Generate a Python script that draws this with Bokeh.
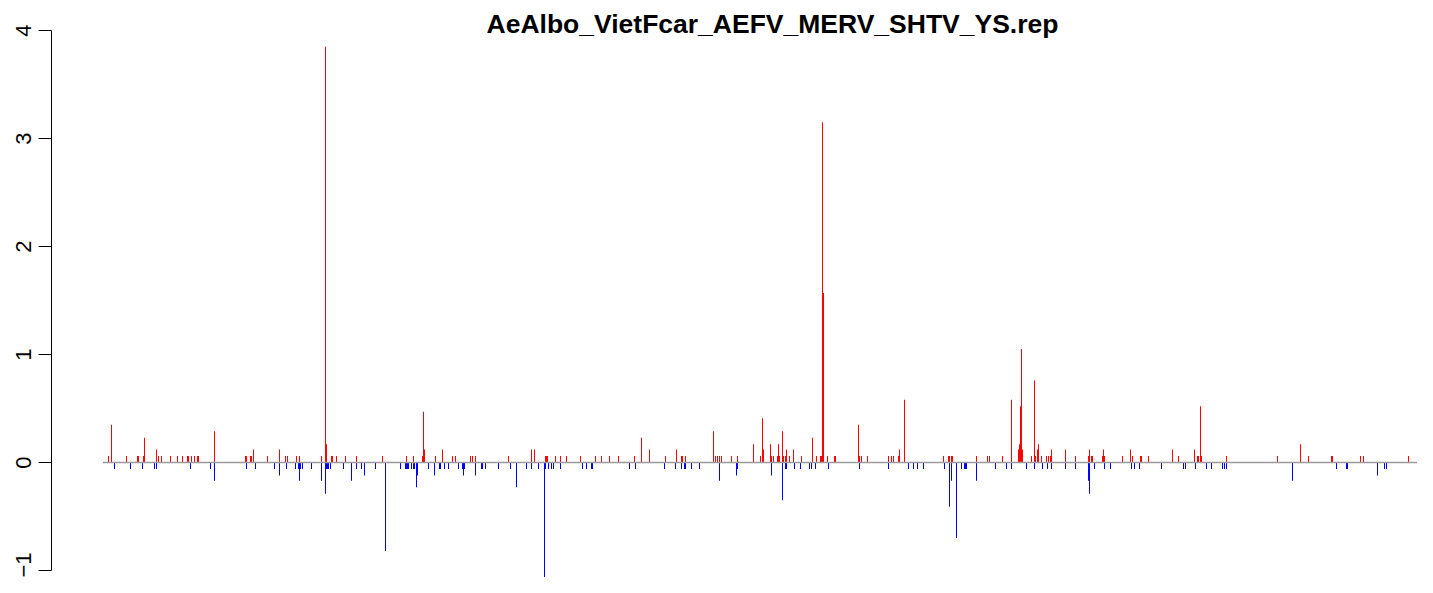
from bokeh.plotting import figure
from bokeh.models import Range1d, FixedTicker, Label
from bokeh.embed import file_html
from bokeh.resources import INLINE

title_text = "AeAlbo_VietFcar_AEFV_MERV_SHTV_YS.rep"
y_ticks = [-1, 0, 1, 2, 3, 4]

# plus strand (red, positive) : bin index and value
plus_pos = [8, 11, 26, 37, 38, 43, 44, 56, 58, 61, 70, 77, 82, 87, 88, 91, 94, 97, 98, 114,
            145, 146, 150, 151, 153, 167, 179, 185, 187, 196, 199, 221, 225, 226, 231, 232, 236, 245, 256,
            282, 306, 313, 322, 323, 324, 335, 342, 352, 355, 370, 372, 375,
            408, 431, 434, 445, 446, 447, 455, 460, 466, 480, 495, 501, 509, 518,
            534, 541, 549, 565, 576, 581, 582, 585, 613, 615, 617, 619, 621, 631, 637, 653, 660, 662, 663,
            670, 671, 673, 677, 678, 679, 682, 683, 685, 686, 689, 693, 701, 712, 716, 720, 721, 722, 723,
            727, 734, 735, 758, 759, 761, 767, 788, 791, 793, 798, 799,
            804, 843, 848, 849, 851, 852, 876, 887, 889, 902, 911, 918, 919, 920, 921, 922, 931,
            934, 935, 937, 938, 941, 946, 948, 950, 951, 965, 975, 988, 989, 991, 992, 1002, 1003, 1004,
            1022, 1030, 1032, 1040, 1041, 1048,
            1072, 1078, 1094, 1097, 1098, 1100, 1101, 1126, 1177,
            1200, 1208, 1231, 1232, 1260, 1263, 1308, 1330]
plus_val = [0.06, 0.35, 0.06, 0.06, 0.06, 0.06, 0.23, 0.12, 0.06, 0.06, 0.06, 0.06, 0.06, 0.06, 0.06, 0.06, 0.06, 0.06, 0.06, 0.29,
            0.06, 0.06, 0.06, 0.06, 0.12, 0.06, 0.12, 0.06, 0.06, 0.06, 0.06, 0.06, 3.85, 0.17, 0.06, 0.06, 0.06, 0.06, 0.06,
            0.06, 0.06, 0.06, 0.06, 0.47, 0.12, 0.06, 0.12, 0.06, 0.06, 0.06, 0.06, 0.06,
            0.06, 0.12, 0.12, 0.06, 0.06, 0.06, 0.06, 0.06, 0.06, 0.06, 0.06, 0.06, 0.06, 0.06,
            0.06, 0.23, 0.12, 0.06, 0.12, 0.06, 0.06, 0.06, 0.29, 0.06, 0.06, 0.06, 0.06, 0.06, 0.06, 0.17, 0.06, 0.41, 0.12,
            0.17, 0.06, 0.06, 0.06, 0.17, 0.06, 0.29, 0.06, 0.06, 0.12, 0.06, 0.12, 0.06, 0.23, 0.06, 0.06, 0.06, 3.15, 1.57,
            0.06, 0.06, 0.06, 0.35, 0.06, 0.06, 0.06, 0.06, 0.06, 0.06, 0.06, 0.12,
            0.58, 0.06, 0.06, 0.06, 0.06, 0.06, 0.06, 0.06, 0.06, 0.06, 0.58, 0.12, 0.17, 0.52, 1.05, 0.12, 0.06,
            0.76, 0.06, 0.12, 0.17, 0.06, 0.06, 0.06, 0.06, 0.12, 0.12, 0.06, 0.06, 0.12, 0.06, 0.06, 0.06, 0.12, 0.06,
            0.06, 0.12, 0.06, 0.06, 0.06, 0.06,
            0.12, 0.06, 0.12, 0.06, 0.06, 0.52, 0.06, 0.06, 0.06,
            0.17, 0.06, 0.06, 0.06, 0.06, 0.06, 0.06, 0.06]

# minus strand (blue, negative) : bin index and value
minus_pos = [14, 30, 42, 54, 56, 90, 110, 114,
             146, 155, 174, 179, 186, 195, 198, 199, 200, 202, 211, 221, 225, 226, 227, 228, 230, 243, 251, 256, 261, 264,
             275, 285, 300, 305, 306, 307, 308, 311, 313, 314, 316, 317, 328, 334, 339, 340, 344, 348, 358, 362, 363, 364,
             375, 381, 382, 385, 398,
             410, 416, 426, 431, 438, 444, 445, 448, 451, 453, 460, 482, 486, 491, 492, 529,
             535, 564, 575, 581, 584, 585, 591, 599, 619, 636, 637,
             671, 682, 685, 686, 694, 700, 709, 711, 715, 728, 759, 788,
             808, 813, 817, 823, 844, 849, 851, 856, 861, 864, 865, 866, 876, 895, 906, 911, 926,
             934, 942, 947, 951, 965, 975, 988, 989, 994, 1004, 1010, 1031, 1034, 1039, 1061,
             1083, 1085, 1095, 1106, 1111, 1122, 1124, 1126, 1192,
             1236, 1246, 1247, 1277, 1284, 1286, 1325, 1326, 1329]
minus_val = [-0.06, -0.06, -0.06, -0.06, -0.06, -0.06, -0.06, -0.17,
             -0.06, -0.06, -0.06, -0.12, -0.06, -0.06, -0.06, -0.17, -0.06, -0.06, -0.06, -0.17, -0.29, -0.06, -0.06, -0.06, -0.06, -0.06, -0.17, -0.06, -0.06, -0.12,
             -0.06, -0.82, -0.06, -0.06, -0.06, -0.06, -0.06, -0.06, -0.06, -0.06, -0.23, -0.12, -0.06, -0.12, -0.06, -0.06, -0.06, -0.06, -0.06, -0.06, -0.12, -0.06,
             -0.12, -0.06, -0.06, -0.06, -0.06,
             -0.06, -0.23, -0.06, -0.06, -0.06, -1.17, -0.06, -0.06, -0.06, -0.06, -0.06, -0.06, -0.06, -0.06, -0.06, -0.06,
             -0.06, -0.06, -0.06, -0.06, -0.06, -0.06, -0.06, -0.06, -0.17, -0.12, -0.06,
             -0.12, -0.35, -0.06, -0.06, -0.06, -0.06, -0.06, -0.06, -0.06, -0.06, -0.06, -0.06,
             -0.06, -0.06, -0.06, -0.06, -0.06, -0.41, -0.17, -0.70, -0.06, -0.06, -0.06, -0.06, -0.17, -0.06, -0.06, -0.06, -0.06,
             -0.06, -0.06, -0.06, -0.06, -0.06, -0.06, -0.17, -0.29, -0.06, -0.06, -0.06, -0.06, -0.06, -0.06, -0.06,
             -0.06, -0.06, -0.06, -0.06, -0.06, -0.06, -0.06, -0.06, -0.17,
             -0.06, -0.06, -0.06, -0.12, -0.06, -0.06, -0.06, -0.06, -0.06]

first_bin = 3
W, H = 1417, 577
left_border = 51
x_lo = -49.0
x_hi = x_lo + (W - left_border)
y_hi = 4.2778
y_lo = y_hi - H / 108.0

p = figure(width=W, height=H, output_backend="svg", toolbar_location=None,
           x_range=Range1d(x_lo, x_hi), y_range=Range1d(y_lo, y_hi),
           x_axis_location=None, min_border_left=left_border, min_border_right=0,
           min_border_top=0, min_border_bottom=0)
p.outline_line_color = None
p.grid.visible = False
p.background_fill_color = "white"

p.vbar(x=plus_pos, bottom=0, top=plus_val, width=1.0, fill_color="#FF0000", line_color=None)
p.vbar(x=minus_pos, bottom=minus_val, top=0, width=1.0, fill_color="#0000FF", line_color=None)
p.segment(x0=[first_bin - 0.5], y0=[0], x1=[x_hi], y1=[0], line_color="#9a9a9a", line_width=1.4)

ax = p.yaxis[0]
ax.ticker = FixedTicker(ticks=y_ticks)
ax.bounds = (-1, 4)
ax.major_label_orientation = "vertical"
ax.major_tick_out = 13
ax.major_tick_in = 0
ax.minor_tick_out = 0
ax.minor_tick_in = 0
ax.axis_line_color = "black"
ax.major_tick_line_color = "black"
ax.major_label_text_font = "Liberation Sans"
ax.major_label_text_font_size = "22px"
ax.major_label_text_color = "black"
ax.major_label_standoff = 7

title_x = 672
title_y = y_hi - 23 / 108.0
p.add_layout(Label(x=title_x, y=title_y, text=title_text, text_align="center", text_baseline="alphabetic",
                   text_font="Liberation Sans", text_font_style="bold", text_font_size="26.5px",
                   text_color="black"))

open("out.html", "w").write(file_html(p, INLINE))
